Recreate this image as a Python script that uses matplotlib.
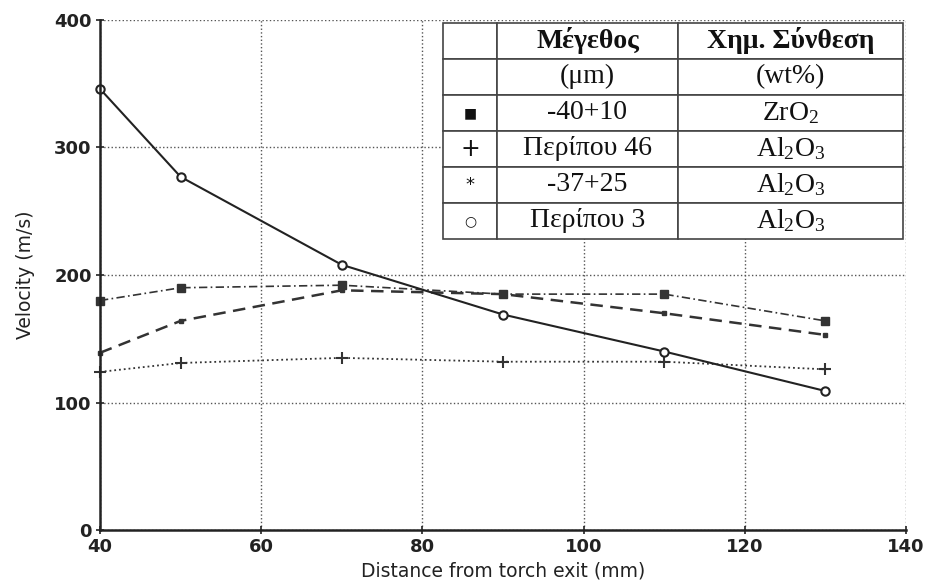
import numpy as np
import matplotlib
matplotlib.use('Agg')
import matplotlib.pyplot as plt

# Data
distance = [40, 50, 70, 90, 110, 130]
zro2_40_10 = [180, 190, 192, 185, 185, 164]      # squares, dash-dot
al2o3_46 = [124, 131, 135, 132, 132, 126]        # plus, dotted
al2o3_37_25 = [139, 164, 188, 185, 170, 153]     # small marks, dashed
al2o3_3 = [346, 277, 208, 169, 140, 109]         # circles, solid

xticks = [40, 60, 80, 100, 120, 140]
yticks = [0, 100, 200, 300, 400]

table_rows = [
    ['', 'Μέγεθος', 'Χημ. Σύνθεση'],
    ['', '(μm)', '(wt%)'],
    ['■', '-40+10', r'ZrO$\mathregular{_2}$'],
    ['+', 'Περίπου 46', r'Al$\mathregular{_2}$O$\mathregular{_3}$'],
    ['*', '-37+25', r'Al$\mathregular{_2}$O$\mathregular{_3}$'],
    ['○', 'Περίπου 3', r'Al$\mathregular{_2}$O$\mathregular{_3}$'],
]

fig = plt.figure(figsize=(9.28, 5.85), dpi=100)
ax = fig.add_axes([100/928, 1 - 530/585, 806/928, 510/585])

ax.plot(distance, zro2_40_10, color='#333333', linestyle='-.', linewidth=1.2,
        marker='s', markersize=6, dashes=(5, 2, 1, 2), clip_on=False)
ax.plot(distance, al2o3_46, color='#333333', linestyle=':', linewidth=1.3,
        marker='+', markersize=8, markeredgewidth=1.5, clip_on=False)
ax.plot(distance, al2o3_37_25, color='#333333', linestyle='--', linewidth=1.8,
        marker='s', markersize=3.5, dashes=(5, 3), clip_on=False)
ax.plot(distance, al2o3_3, color='#222222', linestyle='-', linewidth=1.5,
        marker='o', markersize=6, markerfacecolor='white', markeredgewidth=1.5,
        clip_on=False)

ax.set_xlim(40, 140)
ax.set_ylim(0, 400)
ax.set_xticks(xticks)
ax.set_yticks(yticks)
ax.grid(True, linestyle=':', color='#555555', linewidth=1.0)
ax.set_axisbelow(True)

for s in ['top', 'right']:
    ax.spines[s].set_visible(False)
for s in ['left', 'bottom']:
    ax.spines[s].set_linewidth(1.8)
    ax.spines[s].set_color('#222222')

ax.tick_params(direction='inout', length=6, width=1.2, colors='#222222', pad=3)
for lbl in ax.get_xticklabels() + ax.get_yticklabels():
    lbl.set_fontweight('bold')
    lbl.set_fontsize(13)
    lbl.set_fontfamily('DejaVu Sans')
    lbl.set_color('#222222')

ax.set_xlabel('Distance from torch exit (mm)', fontsize=13.5, family='DejaVu Sans',
              labelpad=4, color='#222222')
ax.set_ylabel('Velocity (m/s)', fontsize=13.5, family='DejaVu Sans',
              labelpad=14, color='#222222')

# legend table
tab = ax.table(cellText=table_rows, colWidths=[0.117, 0.394, 0.489],
               cellLoc='center', bbox=[0.4256, 0.5706, 0.5707, 0.4241])
tab.auto_set_font_size(False)
tab.set_zorder(10)
for (r, c), cell in tab.get_celld().items():
    cell.set_edgecolor('#444444')
    cell.set_linewidth(1.2)
    cell.set_facecolor('white')
    t = cell.get_text()
    t.set_fontsize(20)
    t.set_fontfamily(['Liberation Serif', 'DejaVu Sans'])
    t.set_color('#111111')
    if r == 0:
        t.set_fontweight('bold')
    if c == 0:
        t.set_fontfamily(['DejaVu Sans'])
        t.set_fontsize({2: 10, 3: 17, 4: 13, 5: 10}.get(r, 12))

fig.savefig('out.png', dpi=100)
